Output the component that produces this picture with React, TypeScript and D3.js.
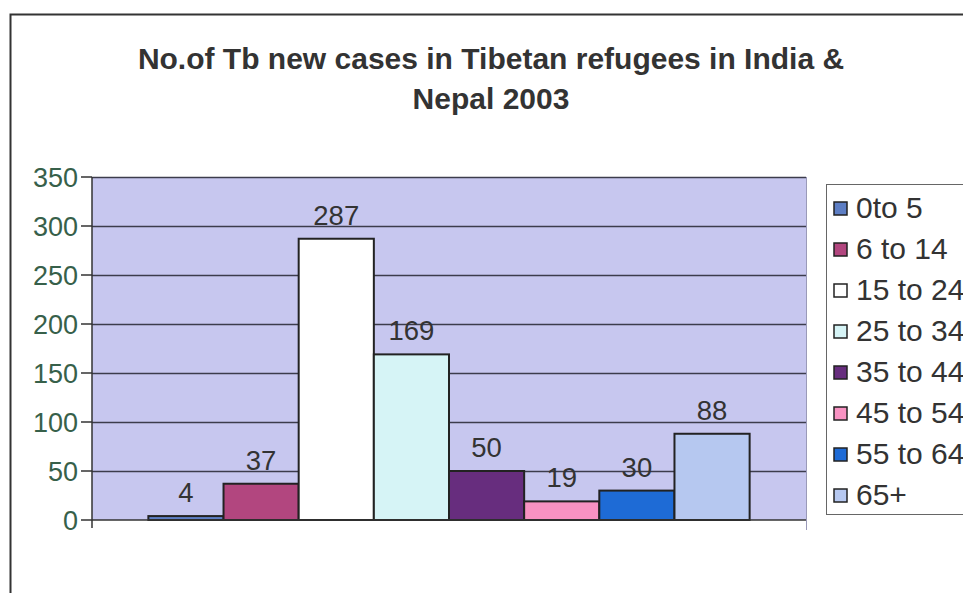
import React, { useEffect, useRef } from "react";
import * as d3 from "d3";

const categories = ["0to 5", "6 to 14", "15 to 24", "25 to 34", "35 to 44", "45 to 54", "55 to 64", "65+"];
const values = [4, 37, 287, 169, 50, 19, 30, 88];
const colors = ["#5d7ec4", "#b2467f", "#ffffff", "#d6f4f6", "#672d7e", "#f892c2", "#1e6bd6", "#b6c8f0"];
const yTicks = [0, 50, 100, 150, 200, 250, 300, 350];
const titleLines = ["No.of Tb new cases in Tibetan refugees in India &", "Nepal 2003"];

export default function App() {
  const ref = useRef<SVGSVGElement>(null);

  useEffect(() => {
    const svg = d3.select(ref.current);
    svg.selectAll("*").remove();
    const W = 963, H = 593;
    const plot = { left: 92, right: 806, top: 177, bottom: 520 };
    const font = "Arial, 'Liberation Sans', sans-serif";

    svg.append("rect").attr("width", W).attr("height", H).attr("fill", "#ffffff");
    // outer chart border
    svg.append("path").attr("d", `M10.5,${H} V14.5 H${W}`).attr("fill", "none").attr("stroke", "#333").attr("stroke-width", 2);

    // title
    svg.selectAll("text.title").data(titleLines).enter().append("text")
      .attr("x", 491).attr("y", (_d, i) => 69 + i * 40)
      .attr("text-anchor", "middle")
      .attr("font-family", font)
      .attr("font-weight", "bold").attr("font-size", 30).attr("fill", "#333")
      .text(d => d);

    const y = d3.scaleLinear().domain([0, 350]).range([plot.bottom, plot.top]);
    const xCat = d3.scaleBand().domain(["all"]).range([plot.left, plot.right]).paddingInner(0).paddingOuter(0);
    const groupW = xCat.bandwidth();
    const barW = groupW / (categories.length + 1.5);
    const x = d3.scaleBand().domain(categories)
      .range([plot.left + barW * 0.75, plot.right - barW * 0.75]).padding(0);

    svg.append("rect").attr("x", plot.left).attr("y", plot.top)
      .attr("width", plot.right - plot.left).attr("height", plot.bottom - plot.top)
      .attr("fill", "#c7c7ef");

    // gridlines
    svg.selectAll("line.grid").data(yTicks.filter(t => t > 0)).enter().append("line")
      .attr("x1", plot.left).attr("x2", plot.right)
      .attr("y1", d => Math.round(y(d)) + 0.5).attr("y2", d => Math.round(y(d)) + 0.5)
      .attr("stroke", "#3c3c4c").attr("stroke-width", 1.5);

    // right border of plot
    svg.append("line").attr("x1", plot.right + 0.5).attr("x2", plot.right + 0.5)
      .attr("y1", plot.top).attr("y2", plot.bottom + 10).attr("stroke", "#9a9ab8").attr("stroke-width", 1);

    // bars
    svg.selectAll("rect.bar").data(values).enter().append("rect")
      .attr("x", (_d, i) => x(categories[i])!)
      .attr("y", d => y(d))
      .attr("width", x.bandwidth())
      .attr("height", d => y(0) - y(d))
      .attr("fill", (_d, i) => colors[i])
      .attr("stroke", "#222").attr("stroke-width", 2);

    // data labels
    svg.selectAll("text.lbl").data(values).enter().append("text")
      .attr("x", (_d, i) => x(categories[i])! + x.bandwidth() / 2)
      .attr("y", d => y(d) - 14)
      .attr("text-anchor", "middle")
      .attr("font-family", font)
      .attr("font-size", 27.5).attr("fill", "#333")
      .text(d => String(d));

    // axes lines
    svg.append("line").attr("x1", plot.left).attr("x2", plot.left).attr("y1", plot.top).attr("y2", plot.bottom + 8)
      .attr("stroke", "#333").attr("stroke-width", 1.5);
    svg.append("line").attr("x1", plot.left).attr("x2", plot.right).attr("y1", plot.bottom).attr("y2", plot.bottom)
      .attr("stroke", "#333").attr("stroke-width", 1.5);

    // y ticks and labels
    svg.selectAll("line.ytick").data(yTicks).enter().append("line")
      .attr("x1", plot.left - 11).attr("x2", plot.left)
      .attr("y1", d => y(d)).attr("y2", d => y(d))
      .attr("stroke", "#333").attr("stroke-width", 1.5);
    svg.selectAll("text.ylab").data(yTicks).enter().append("text")
      .attr("x", plot.left - 14).attr("y", d => y(d) + 10)
      .attr("text-anchor", "end")
      .attr("font-family", font)
      .attr("font-size", 27).attr("fill", "#37604a")
      .text(d => String(d));

    // legend
    const lg = { x: 826, y: 184, w: 150, h: 330 };
    svg.append("rect").attr("x", lg.x + 0.5).attr("y", lg.y + 0.5).attr("width", lg.w).attr("height", lg.h)
      .attr("fill", "#fff").attr("stroke", "#666").attr("stroke-width", 1);
    const ly = d3.scalePoint().domain(categories).range([218, 505]);
    const items = svg.selectAll("g.li").data(categories).enter().append("g")
      .attr("transform", d => `translate(0,${ly(d)})`);
    items.append("rect").attr("x", 834).attr("y", -16).attr("width", 13).attr("height", 13)
      .attr("fill", (_d, i) => colors[i]).attr("stroke", "#222").attr("stroke-width", 1.5);
    items.append("text").attr("x", 856).attr("y", 0)
      .attr("font-family", font)
      .attr("font-size", 30).attr("fill", "#333")
      .text(d => d);
  }, []);

  return (
    <svg ref={ref} width={963} height={593}
      style={{ position: "absolute", left: 0, top: 0, display: "block" }} />
  );
}
